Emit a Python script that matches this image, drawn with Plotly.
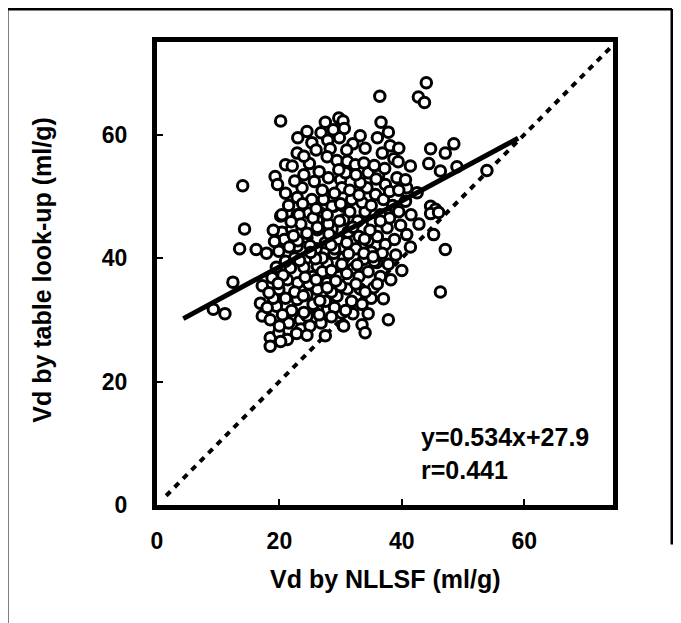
import plotly.graph_objects as go

# Scatter data: Vd by NLLSF (x) vs Vd by table look-up (y), ml/g
vd_nllsf = [
    20.2, 14.0, 24.5, 27.5, 29.7, 30.2, 26.8, 25.3, 27.9, 28.3, 22.9, 21.0, 22.1, 19.3, 19.7, 24.9, 27.8, 29.4, 25.7, 23.7,
    22.9, 25.3, 27.2, 28.9, 30.0,
    44.0, 42.7, 43.7, 36.4, 30.4, 30.6, 36.6, 37.8, 38.1, 39.5, 38.7, 39.4, 41.4, 44.7, 47.1, 48.5, 44.4, 46.3, 49.0, 53.9,
    40.8, 39.2, 40.6, 36.2, 37.3, 42.5, 40.6, 44.7, 45.5, 35.7, 34.3, 33.2, 31.1, 32.4, 33.8, 30.8,
    14.3, 13.5, 16.2, 17.9, 19.9, 12.4, 9.2, 11.1, 17.2, 16.9, 17.2, 18.5, 19.9, 21.3, 18.5, 27.5, 30.4, 20.2, 20.4,
    47.1, 46.3, 45.2, 41.4, 40.8, 39.8, 37.6, 37.3, 37.8, 33.5, 34.0, 30.5, 37.0, 35.4, 33.2, 31.1, 35.9, 33.8, 32.1, 44.7, 46.0,
    20.4, 22.9, 24.8, 26.7, 28.6, 30.5, 29.7, 30.2,
    23.2, 26.2, 28.6, 30.5, 21.8, 21.3, 19.9, 19.5, 21.5, 23.4, 24.5, 26.2, 22.9, 24.5, 26.2, 27.8, 29.4, 30.2, 27.8, 28.9,
    30.5, 26.2, 24.5, 22.9, 21.8, 24.5, 26.2, 18.5, 20.2,
    31.5, 32.8, 34.0, 35.2, 33.0, 31.2, 29.5, 27.5, 26.0, 30.5, 32.5, 34.5, 36.0, 35.0, 28.0, 25.5, 23.5, 22.0, 24.0, 25.5,
    27.0, 28.5, 29.8, 31.0, 33.0, 34.5, 36.5, 23.0, 24.8, 28.5, 30.0, 31.8, 33.5, 35.0, 36.0, 29.0, 27.5, 25.5, 22.0, 23.5,
    25.0, 26.8, 28.5, 32.0, 34.5, 21.0, 19.5, 18.8, 19.0, 18.0, 20.5, 22.5, 20.8, 19.0, 21.5, 23.8, 26.0, 27.8, 29.8, 31.8,
    33.5, 35.0, 36.5, 38.0, 37.0, 38.5, 39.5, 41.5, 42.8, 38.8, 39.0, 37.8, 36.8, 40.0, 38.2, 26.5, 28.0, 24.0, 22.5, 31.5,
    32.5, 34.5, 35.5, 36.8, 34.0, 32.0, 31.0, 26.0, 24.0, 21.0, 27.0, 29.0, 33.0, 38.0, 39.5, 37.2, 35.8, 36.0, 29.8, 33.2,
    28.8, 23.0, 26.2, 24.5, 30.0, 32.0, 34.8, 27.0, 29.0, 31.0, 25.0, 23.0, 36.5, 35.5, 33.8, 30.2, 26.0, 22.5, 21.0, 27.8,
    32.5, 34.0, 30.8, 26.5, 24.0, 20.0, 22.8, 24.5,
    20.6, 21.6, 23.3, 19.2, 18.3, 21.9, 24.2, 25.9, 28.1, 29.2, 31.3, 32.7, 33.9, 35.3, 19.8, 22.3, 23.9, 25.1, 26.6, 28.4,
]
vd_table = [
    62.2, 51.7, 60.5, 62.0, 62.7, 61.6, 60.3, 58.7, 59.1, 57.7, 57.0, 55.1, 54.9, 53.2, 51.9, 55.3, 56.4, 55.8, 52.4, 51.4,
    49.8, 49.5, 49.5, 48.4, 52.7,
    68.4, 66.1, 65.2, 66.2, 62.2, 61.0, 62.0, 60.4, 58.2, 57.8, 56.1, 55.6, 54.9, 57.7, 57.0, 58.5, 55.3, 54.1, 54.8, 54.2,
    51.4, 53.0, 52.7, 53.4, 51.9, 50.6, 49.2, 48.4, 47.9, 50.3, 51.4, 52.2, 55.7, 55.1, 55.4, 53.8,
    44.7, 41.5, 41.4, 40.8, 41.1, 36.1, 31.7, 31.0, 35.5, 32.7, 30.6, 27.1, 27.9, 26.8, 25.7, 27.4, 29.1, 46.8, 44.2,
    41.4, 34.5, 43.8, 41.8, 43.8, 45.3, 44.9, 42.2, 30.0, 29.2, 27.9, 29.0, 33.4, 35.2, 35.0, 35.0, 39.3, 39.8, 38.3, 47.2, 47.4,
    47.0, 47.0, 47.3, 47.3, 48.4, 48.4, 54.3, 51.4,
    47.0, 46.1, 44.7, 46.2, 38.4, 36.5, 34.9, 32.2, 29.5, 30.0, 30.6, 31.7, 33.3, 34.1, 34.9, 36.0, 33.8, 31.1, 39.2, 40.8,
    41.7, 38.7, 40.0, 41.9, 42.5, 43.3, 44.6, 30.0, 26.5,
    47.5, 46.0, 47.5, 45.8, 43.5, 44.2, 43.0, 42.5, 41.5, 40.0, 41.5, 42.8, 43.5, 41.0, 45.5, 46.5, 45.5, 44.8, 38.5, 37.0,
    37.8, 38.0, 37.0, 37.5, 37.0, 37.8, 37.0, 36.0, 35.8, 34.5, 35.5, 33.0, 32.5, 33.5, 35.8, 32.0, 33.0, 32.5, 31.5, 28.5,
    29.0, 29.5, 30.5, 31.0, 31.0, 39.5, 38.5, 36.8, 33.5, 32.0, 30.8, 40.0, 43.0, 44.5, 48.5, 48.8, 48.0, 47.0, 46.0, 49.5,
    49.0, 48.5, 47.0, 46.5, 49.5, 48.5, 47.5, 47.0, 45.5, 43.0, 40.5, 39.0, 40.8, 38.0, 36.5, 54.0, 53.0, 53.5, 52.5, 51.0,
    53.5, 53.8, 55.0, 57.0, 57.8, 58.5, 57.5, 57.5, 56.5, 50.5, 51.0, 50.5, 50.2, 50.8, 51.0, 54.5, 52.8, 59.5, 59.5, 59.8,
    60.8, 59.5, 45.0, 44.0, 48.8, 45.0, 44.5, 40.0, 41.5, 42.5, 42.0, 42.8, 46.0, 39.5, 40.8, 39.0, 36.5, 34.5, 33.5, 35.2,
    35.8, 34.5, 31.5, 30.8, 31.2, 29.0, 27.8, 27.5,
    37.2, 41.8, 39.6, 42.7, 34.4, 45.9, 36.9, 39.9, 43.9, 36.3, 40.7, 38.9, 43.1, 40.2, 35.9, 43.6, 33.9, 40.9, 33.1, 42.1,
]

# Regression y = 0.534x + 27.9, drawn over its fitted span
reg_slope = 0.534
reg_intercept = 27.9
reg_x = [4.3, 59.0]
reg_y = [reg_slope * v + reg_intercept for v in reg_x]

# Identity line
identity_xy = [1.5, 74.0]

x_ticks = [0, 20, 40, 60]
y_ticks = [0, 20, 40, 60]

FONT = "Liberation Sans, Arial, sans-serif"

# page has an 8px body margin; figure coordinates = screen - 8
OFF = 8
PL, PT, PR, PB = 157 - OFF, 42 - OFF, 613 - OFF, 505.5 - OFF
W, H = 681 - OFF, 623 - OFF


def px_x(p):
    return (p - OFF - PL) / (PR - PL)


def px_y(p):
    return (PB - (p - OFF)) / (PB - PT)


fig = go.Figure()
fig.add_trace(go.Scatter(
    x=identity_xy, y=identity_xy, mode="lines",
    line=dict(color="black", width=4, dash="6px,6px"), hoverinfo="skip"))
fig.add_trace(go.Scatter(
    x=vd_nllsf, y=vd_table, mode="markers",
    marker=dict(size=10.5, color="white", line=dict(color="black", width=3))))
fig.add_trace(go.Scatter(
    x=reg_x, y=reg_y, mode="lines",
    line=dict(color="black", width=5), hoverinfo="skip"))

axis_common = dict(
    showgrid=False, zeroline=False, showline=True, linecolor="black", linewidth=5,
    mirror=True, ticks="inside", ticklen=6, tickwidth=2, tickcolor="black",
    tickfont=dict(family=FONT, size=23, color="black", weight="bold"),
)
fig.update_xaxes(range=[0, 74.5], tickvals=x_ticks, ticklabelstandoff=11, **axis_common)
fig.update_yaxes(range=[0, 75], tickvals=y_ticks, ticklabelstandoff=20, **axis_common)

fig.add_annotation(text="<b>y=0.534x+27.9</b>", xref="paper", yref="paper",
                   x=px_x(419), y=px_y(437), xanchor="left", yanchor="middle",
                   showarrow=False, font=dict(family=FONT, size=25, color="black"))
fig.add_annotation(text="<b>r=0.441</b>", xref="paper", yref="paper",
                   x=px_x(419), y=px_y(470), xanchor="left", yanchor="middle",
                   showarrow=False, font=dict(family=FONT, size=25, color="black"))
fig.add_annotation(text="<b>Vd by NLLSF (ml/g)</b>", xref="paper", yref="paper",
                   x=px_x(385), y=px_y(580), xanchor="center", yanchor="middle",
                   showarrow=False, font=dict(family=FONT, size=25, color="black"))
fig.add_annotation(text="<b>Vd by table look-up (ml/g)</b>", xref="paper", yref="paper",
                   x=px_x(42), y=px_y(270), xanchor="center", yanchor="middle",
                   textangle=-90, showarrow=False, font=dict(family=FONT, size=25, color="black"))

# Outer frame
frame = dict(type="line", xref="paper", yref="paper", line=dict(color="black", width=3))
fig.add_shape(x0=px_x(7), x1=px_x(7), y0=px_y(9), y1=px_y(630), **frame)
fig.add_shape(x0=px_x(7), x1=px_x(672), y0=px_y(9), y1=px_y(9), **frame)
fig.add_shape(x0=px_x(672), x1=px_x(672), y0=px_y(9), y1=px_y(545), **frame)

fig.update_layout(
    width=W, height=H,
    margin=dict(l=PL, r=W - PR, t=PT, b=H - PB),
    paper_bgcolor="white", plot_bgcolor="white",
    showlegend=False,
)

fig.write_html("out.html")
